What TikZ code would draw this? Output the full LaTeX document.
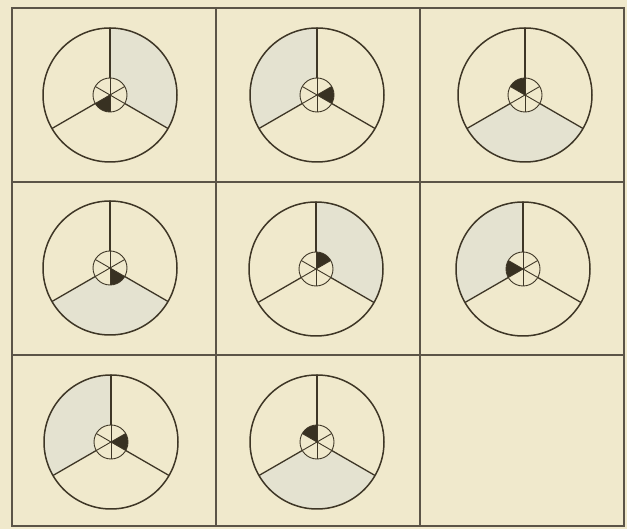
\documentclass[tikz,border=0pt]{standalone}
\definecolor{bgc}{RGB}{240,233,204}
\definecolor{shadec}{RGB}{228,226,208}
\definecolor{inkc}{RGB}{62,54,38}
\tikzset{
  gridline/.style={draw=inkc!85, line width=1.8pt},
  outerring/.style={draw=inkc, line width=1.5pt},
  spoke/.style={draw=inkc, line width=1.3pt},
  innerline/.style={draw=inkc, line width=0.9pt},
  sectorfill/.style={fill=shadec},
  blackfill/.style={fill=inkc!90!black},
}
\newcommand{\mywheel}[4]{%
  \begin{scope}[shift={(#1,#2)}]
    \fill[sectorfill] (0,0) -- (#3:67) arc[start angle=#3, delta angle=120, radius=67] -- cycle;
    \fill[bgc] (0,0) circle[radius=17];
    \fill[blackfill] (0,0) -- (#4:17) arc[start angle=#4, delta angle=60, radius=17] -- cycle;
    \draw[outerring] (0,0) circle[radius=67];
    \draw[innerline] (0,0) circle[radius=17];
    \foreach \a in {90,210,330} {\draw[spoke] (\a:17) -- (\a:67);}
    \foreach \a in {90,30,150} {\draw[innerline] (\a:17) -- (\a+180:17);}
  \end{scope}}
\begin{document}
\begin{tikzpicture}[x=1pt,y=1pt]
  \fill[bgc] (0,0) rectangle (627,529);
  \useasboundingbox (0,0) rectangle (627,529);
  % grid
  \draw[gridline] (12,3) rectangle (624,521);
  \draw[gridline] (216,3) -- (216,521);
  \draw[gridline] (420,3) -- (420,521);
  \draw[gridline] (12,347) -- (624,347);
  \draw[gridline] (12,174) -- (624,174);
  % wheels: x, y, shaded sector start, black wedge start
  \mywheel{110}{434}{330}{210}
  \mywheel{317}{434}{90}{330}
  \mywheel{525}{434}{210}{90}
  \mywheel{110}{261}{210}{270}
  \mywheel{316}{260}{330}{30}
  \mywheel{523}{260}{90}{150}
  \mywheel{111}{87}{90}{330}
  \mywheel{317}{87}{210}{90}
\end{tikzpicture}
\end{document}
